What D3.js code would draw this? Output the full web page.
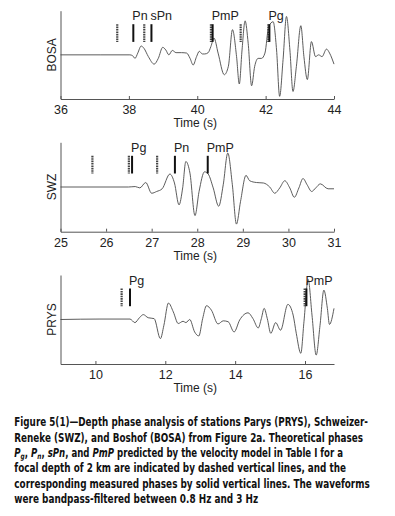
<!DOCTYPE html>
<html>
<head>
<meta charset="utf-8">
<script src="https://cdn.jsdelivr.net/npm/d3@7/dist/d3.min.js"></script>
<style>
  body { margin: 0; background: #fff; }
  svg { display: block; }
</style>
</head>
<body>
<div id="chart"></div>
<script>
// BOSA trace (time in s, normalised amplitude)
const bosaTime = [36.00, 37.16, 38.03, 38.11, 38.18, 38.26, 38.36, 38.44, 38.57, 38.74, 38.86, 38.99, 39.08, 39.17, 39.27, 39.38, 39.54, 39.69, 39.79, 39.88, 39.98, 40.06, 40.15, 40.22, 40.32, 40.40, 40.49, 40.61, 40.79, 40.91, 41.03, 41.15, 41.23, 41.31, 41.40, 41.49, 41.59, 41.68, 41.78, 41.88, 41.98, 42.09, 42.22, 42.32, 42.41, 42.51, 42.61, 42.71, 42.80, 42.90, 43.03, 43.12, 43.22, 43.34, 43.46, 43.55, 43.65, 43.78, 43.87, 44.00];
const bosaAmp = [0, 0, 0, -0.02, -0.08, 0.04, 0.20, 0.15, -0.04, -0.21, -0.08, 0.17, 0.11, 0, 0.10, 0.05, 0.05, 0.04, -0.08, -0.23, -0.04, 0.08, 0.02, 0.02, 0.05, 0.19, 0.38, 0.04, -0.45, -0.26, 0.57, -0.04, -0.66, 0.11, 0.77, 0.26, -0.70, -0.26, -0.08, -0.08, 0.04, 0.64, 0.75, 0.11, -0.94, -0.11, 0.87, 0.11, -0.83, -0.26, 0.66, -0.04, -0.56, 0.30, -0.04, 0, -0.04, 0.13, 0.04, -0.21];
const bosaTicks = [36, 38, 40, 42, 44];
const bosaDashed = [37.66, 38.45, 40.40, 41.27, 42.08];
const bosaSolid = [38.13, 38.66, 40.45, 42.11];
const bosaPhases = ["Pn", "sPn", "PmP", "Pg"];
const bosaPhaseTime = [38.13, 38.66, 40.45, 42.11];

// SWZ trace
const swzTime = [25.00, 26.49, 26.64, 26.74, 26.87, 27.00, 27.11, 27.23, 27.40, 27.50, 27.60, 27.68, 27.75, 27.84, 27.95, 28.04, 28.16, 28.24, 28.35, 28.47, 28.57, 28.67, 28.77, 28.86, 28.95, 29.07, 29.15, 29.30, 29.45, 29.59, 29.70, 29.81, 29.92, 30.03, 30.13, 30.23, 30.32, 30.41, 30.51, 30.60, 30.70, 30.87, 31.00];
const swzAmp = [0, 0, 0.01, -0.02, 0.10, -0.14, -0.10, -0.04, 0.29, 0.09, -0.40, -0.02, 0.57, 0.31, -0.64, -0.10, 0.34, 0.29, -0.02, -0.43, 0.05, 0.76, 0.05, -0.83, -0.32, 0.26, 0.14, 0.10, 0.09, 0, -0.14, -0.02, 0.14, -0.02, -0.23, -0.02, 0.19, 0.05, -0.10, -0.02, 0.07, -0.04, -0.04];
const swzTicks = [25, 26, 27, 28, 29, 30, 31];
const swzDashed = [25.70, 26.50, 27.12];
const swzSolid = [26.57, 27.51, 28.23];
const swzPhases = ["Pg", "Pn", "PmP"];
const swzPhaseTime = [26.57, 27.51, 28.23];

// PRYS trace
const prysTime = [9.00, 10.13, 10.99, 11.13, 11.26, 11.37, 11.51, 11.68, 11.86, 11.96, 12.09, 12.23, 12.37, 12.51, 12.59, 12.70, 12.84, 12.96, 13.07, 13.18, 13.32, 13.51, 13.66, 13.80, 13.97, 14.13, 14.37, 14.51, 14.66, 14.75, 14.83, 14.92, 15.02, 15.16, 15.30, 15.51, 15.66, 15.75, 15.88, 15.97, 16.09, 16.20, 16.32, 16.43, 16.54, 16.64, 16.70, 16.83];
const prysAmp = [0, 0.01, 0.01, -0.07, 0.04, 0.11, 0.04, 0.02, -0.43, -0.13, 0.37, 0.17, -0.09, -0.04, -0.07, 0, -0.28, -0.37, 0.02, 0.31, 0.21, -0.10, -0.03, -0.05, -0.28, -0.01, 0.15, 0.02, -0.19, 0.02, 0.25, 0.02, -0.31, -0.07, -0.24, 0.34, 0.10, -0.31, -0.76, -0.05, 0.90, 0.10, -0.80, -0.13, 0.66, 0.25, -0.11, 0.25];
const prysTicks = [10, 12, 14, 16];
const prysDashed = [10.75, 15.99];
const prysSolid = [10.99, 16.04];
const prysPhases = ["Pg", "PmP"];
const prysPhaseTime = [10.99, 16.04];

// caption: [text, style] pieces per line ("i" italic, "sub" italic subscript)
const captionLines = [
  [["Figure 5(1)\u2014Depth phase analysis of stations Parys (PRYS), Schweizer-", ""]],
  [["Reneke (SWZ), and Boshof (BOSA) from Figure 2a. Theoretical phases", ""]],
  [["P", "i"], ["g", "sub"], [", ", ""], ["P", "i"], ["n", "sub"], [", ", ""], ["sPn", "i"], [", and ", ""], ["PmP", "i"], [" predicted by the velocity model in Table I for a", ""]],
  [["focal depth of 2 km are indicated by dashed vertical lines, and the", ""]],
  [["corresponding measured phases by solid vertical lines. The waveforms", ""]],
  [["were bandpass-filtered between 0.8 Hz and 3 Hz", ""]]
];
const captionWidths = [354, 349, 329, 332, 356, 244];

const W = 395, H = 516;
const left = 60.5, right = 334;
const font = "'Liberation Sans', Arial, sans-serif";

const svg = d3.select("#chart").append("svg")
  .attr("width", W)
  .attr("height", H);

const panels = [
  { name: "BOSA", top: 10.7, bottom: 99, domain: [36, 44], t: bosaTime, a: bosaAmp, ticks: bosaTicks,
    dashed: bosaDashed, solid: bosaSolid, phases: bosaPhases, phaseTime: bosaPhaseTime },
  { name: "SWZ", top: 142.3, bottom: 231.7, domain: [25, 31], t: swzTime, a: swzAmp, ticks: swzTicks,
    dashed: swzDashed, solid: swzSolid, phases: swzPhases, phaseTime: swzPhaseTime },
  { name: "PRYS", top: 275, bottom: 364, domain: [9, 16.83], t: prysTime, a: prysAmp, ticks: prysTicks,
    dashed: prysDashed, solid: prysSolid, phases: prysPhases, phaseTime: prysPhaseTime }
];

panels.forEach(p => {
  const x = d3.scaleLinear().domain(p.domain).range([left, right]);
  const y = d3.scaleLinear().domain([-1, 1]).range([p.bottom, p.top]);
  const g = svg.append("g");

  // x axis with small inward ticks
  const xAxis = d3.axisBottom(x)
    .tickValues(p.ticks)
    .tickFormat(d3.format("d"))
    .tickSizeInner(-3)
    .tickSizeOuter(0)
    .tickPadding(6);
  const ax = g.append("g")
    .attr("transform", `translate(0,${p.bottom})`)
    .call(xAxis);
  ax.select(".domain").attr("stroke", "#555").attr("stroke-width", 1);
  ax.selectAll(".tick line").attr("stroke", "#555");
  ax.selectAll(".tick text")
    .attr("font-family", font)
    .attr("font-size", 12.5)
    .attr("fill", "#222");

  // y axis line only
  const yAxis = d3.axisLeft(y).tickValues([]).tickSizeOuter(0);
  const ay = g.append("g")
    .attr("transform", `translate(${left},0)`)
    .call(yAxis);
  ay.select(".domain").attr("stroke", "#555").attr("stroke-width", 1);

  g.append("text")
    .attr("x", (left + right) / 2 - 2)
    .attr("y", p.bottom + 28)
    .attr("text-anchor", "middle")
    .attr("font-family", font)
    .attr("font-size", 12)
    .attr("fill", "#222")
    .text("Time (s)");

  g.append("text")
    .attr("transform", `translate(56.3,${(p.top + p.bottom) / 2}) rotate(-90)`)
    .attr("text-anchor", "middle")
    .attr("font-family", font)
    .attr("font-size", 12)
    .attr("fill", "#222")
    .text(p.name);

  // waveform
  const pts = p.t.map((t, i) => [t, p.a[i]]);
  const line = d3.line()
    .x(d => x(d[0]))
    .y(d => y(d[1]))
    .curve(d3.curveMonotoneX);
  g.append("path")
    .datum(pts)
    .attr("fill", "none")
    .attr("stroke", "#4a4a4a")
    .attr("stroke-width", 0.9)
    .attr("d", line);

  // phase markers: dashed = theoretical, solid = measured
  const mTop = p.top + 13.5, mBot = p.top + 31.2;
  g.selectAll(".dashed")
    .data(p.dashed)
    .join("line")
    .attr("x1", d => x(d)).attr("x2", d => x(d))
    .attr("y1", mTop).attr("y2", mBot)
    .attr("stroke", "#444")
    .attr("stroke-width", 2.2)
    .attr("stroke-dasharray", "1.6,0.8");
  g.selectAll(".solid")
    .data(p.solid)
    .join("line")
    .attr("x1", d => x(d)).attr("x2", d => x(d))
    .attr("y1", mTop).attr("y2", mBot)
    .attr("stroke", "#111")
    .attr("stroke-width", 2);

  g.selectAll(".phase")
    .data(p.phases)
    .join("text")
    .attr("x", (d, i) => x(p.phaseTime[i]) - 1)
    .attr("y", p.top + 9.5)
    .attr("font-family", font)
    .attr("font-size", 12.5)
    .attr("fill", "#222")
    .text(d => d);
});

// caption, each line squeezed horizontally to the reference width
const cap = svg.append("g")
  .attr("font-family", "'Liberation Sans Narrow', 'DejaVu Sans Condensed', Arial, sans-serif")
  .attr("font-weight", "bold")
  .attr("font-size", 11.8)
  .attr("fill", "#111");

captionLines.forEach((parts, li) => {
  const t = cap.append("text");
  parts.forEach(([s, style], i) => {
    const ts = t.append("tspan").text(s);
    if (style === "i") ts.attr("font-style", "italic");
    if (style === "sub") ts.attr("font-style", "italic").attr("font-size", 8).attr("dy", 2.5);
    if (style !== "sub" && i > 0 && parts[i - 1][1] === "sub") ts.attr("dy", -2.5);
  });
  const natural = t.node().getComputedTextLength();
  const sx = Math.min(1, captionWidths[li] / natural);
  t.attr("transform", `translate(14.3,${426.3 + li * 15.3}) scale(${sx},1)`);
});
</script>
</body>
</html>
